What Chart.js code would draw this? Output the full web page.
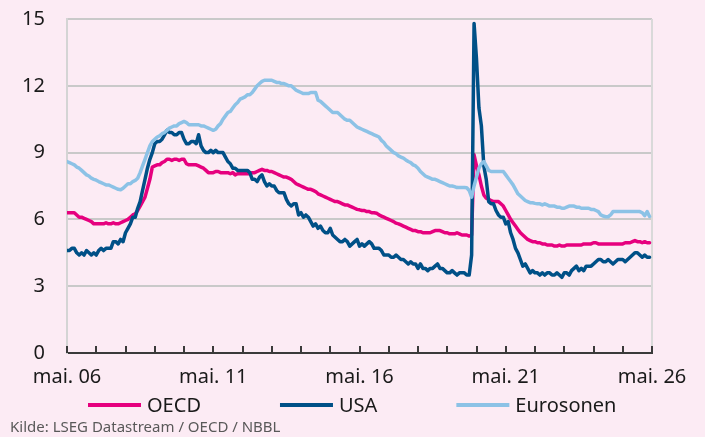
<!DOCTYPE html>
<html>
<head>
<meta charset="utf-8">
<script src="https://cdn.jsdelivr.net/npm/chart.js@4.4.1/dist/chart.umd.min.js"></script>
<style>
  html, body { margin: 0; padding: 0; background: #fcebf4; }
</style>
</head>
<body>
<canvas id="chart" width="705" height="437"></canvas>
<script>
// Monthly unemployment rate (%), first value = May 2006, one row per May..April year
const oecd = [
    6.3, 6.3, 6.3, 6.3, 6.2, 6.1, 6.1, 6.05, 6.0, 5.95, 5.9, 5.8,
    5.8, 5.8, 5.8, 5.8, 5.85, 5.8, 5.8, 5.85, 5.8, 5.8, 5.85, 5.9,
    5.95, 6.0, 6.1, 6.2, 6.25, 6.4, 6.6, 6.8, 7.0, 7.4, 7.8, 8.35,
    8.4, 8.45, 8.45, 8.55, 8.6, 8.7, 8.7, 8.65, 8.7, 8.7, 8.65, 8.7,
    8.7, 8.5, 8.45, 8.45, 8.45, 8.45, 8.4, 8.35, 8.3, 8.2, 8.1, 8.1,
    8.1, 8.15, 8.15, 8.1, 8.1, 8.1, 8.1, 8.05, 8.1, 8.0, 8.05, 8.05,
    8.05, 8.05, 8.05, 8.05, 8.1, 8.1, 8.15, 8.2, 8.25, 8.2, 8.2, 8.15,
    8.15, 8.1, 8.05, 8.0, 7.95, 7.9, 7.9, 7.85, 7.8, 7.7, 7.6, 7.55,
    7.5, 7.45, 7.4, 7.35, 7.35, 7.3, 7.25, 7.15, 7.1, 7.05, 7.0, 6.95,
    6.9, 6.85, 6.8, 6.8, 6.75, 6.7, 6.65, 6.65, 6.6, 6.55, 6.5, 6.45,
    6.43, 6.4, 6.4, 6.35, 6.35, 6.3, 6.3, 6.28, 6.2, 6.15, 6.1, 6.05,
    6.0, 5.95, 5.9, 5.83, 5.8, 5.75, 5.7, 5.65, 5.6, 5.55, 5.5, 5.5,
    5.45, 5.45, 5.4, 5.4, 5.4, 5.4, 5.45, 5.5, 5.5, 5.5, 5.45, 5.4,
    5.4, 5.35, 5.35, 5.35, 5.4, 5.35, 5.3, 5.3, 5.3, 5.25, 5.3, 8.9,
    8.4, 8.0, 7.5, 7.1, 6.95, 6.9, 6.85, 6.8, 6.8, 6.8, 6.7, 6.6,
    6.4, 6.2, 6.0, 5.85, 5.7, 5.55, 5.4, 5.3, 5.2, 5.1, 5.05, 5.0,
    5.0, 4.95, 4.95, 4.9, 4.9, 4.85, 4.85, 4.85, 4.8, 4.8, 4.85, 4.8,
    4.8, 4.85, 4.85, 4.85, 4.85, 4.85, 4.85, 4.85, 4.9, 4.9, 4.9, 4.9,
    4.95, 4.95, 4.9, 4.9, 4.9, 4.9, 4.9, 4.9, 4.9, 4.9, 4.9, 4.9,
    4.9, 4.95, 4.95, 4.95, 5.0, 5.05, 5.0, 5.0, 4.95, 5.0, 4.95, 4.95
];

const usa = [
    4.6, 4.6, 4.7, 4.7, 4.5, 4.4, 4.5, 4.4, 4.6, 4.5, 4.4, 4.5,
    4.4, 4.6, 4.7, 4.6, 4.7, 4.7, 4.7, 5.0, 5.0, 4.9, 5.1, 5.0,
    5.4, 5.6, 5.8, 6.1, 6.1, 6.5, 6.8, 7.3, 7.8, 8.3, 8.7, 9.0,
    9.4, 9.5, 9.5, 9.6, 9.8, 10.0, 9.9, 9.9, 9.8, 9.8, 9.9, 9.9,
    9.6, 9.4, 9.4, 9.5, 9.5, 9.4, 9.8, 9.3, 9.1, 9.0, 9.0, 9.1,
    9.0, 9.1, 9.0, 9.0, 9.0, 8.8, 8.6, 8.5, 8.3, 8.3, 8.2, 8.2,
    8.2, 8.2, 8.2, 8.1, 7.8, 7.8, 7.7, 7.9, 8.0, 7.7, 7.5, 7.6,
    7.5, 7.5, 7.3, 7.2, 7.2, 7.2, 6.9, 6.7, 6.6, 6.7, 6.7, 6.2,
    6.3, 6.1, 6.2, 6.1, 5.9, 5.7, 5.8, 5.6, 5.7, 5.5, 5.4, 5.4,
    5.6, 5.3, 5.2, 5.1, 5.0, 5.0, 5.1, 5.0, 4.8, 4.9, 5.0, 5.1,
    4.8, 4.9, 4.8, 4.9, 5.0, 4.9, 4.7, 4.7, 4.7, 4.6, 4.4, 4.4,
    4.4, 4.3, 4.3, 4.4, 4.3, 4.2, 4.2, 4.1, 4.0, 4.1, 4.0, 4.0,
    3.8, 4.0, 3.8, 3.8, 3.7, 3.8, 3.8, 3.9, 4.0, 3.8, 3.8, 3.7,
    3.6, 3.6, 3.7, 3.6, 3.5, 3.6, 3.6, 3.6, 3.5, 3.5, 4.4, 14.8,
    13.2, 11.0, 10.2, 8.4, 7.8, 6.8, 6.7, 6.7, 6.4, 6.2, 6.1, 6.1,
    5.8, 5.9, 5.4, 5.1, 4.7, 4.5, 4.2, 3.9, 4.0, 3.8, 3.6, 3.7,
    3.6, 3.6, 3.5, 3.6, 3.5, 3.6, 3.6, 3.5, 3.5, 3.6, 3.5, 3.4,
    3.6, 3.6, 3.5, 3.7, 3.8, 3.9, 3.7, 3.8, 3.7, 3.9, 3.9, 3.9,
    4.0, 4.1, 4.2, 4.2, 4.1, 4.1, 4.2, 4.1, 4.0, 4.1, 4.2, 4.2,
    4.2, 4.1, 4.2, 4.3, 4.4, 4.5, 4.5, 4.4, 4.3, 4.4, 4.3, 4.3
];

const eurosonen = [
    8.6, 8.55, 8.5, 8.45, 8.35, 8.3, 8.2, 8.1, 8.0, 7.95, 7.85, 7.8,
    7.76, 7.7, 7.65, 7.6, 7.55, 7.55, 7.5, 7.45, 7.4, 7.35, 7.33, 7.4,
    7.5, 7.6, 7.6, 7.7, 7.75, 7.85, 8.1, 8.4, 8.7, 9.0, 9.3, 9.5,
    9.6, 9.7, 9.75, 9.85, 9.9, 10.0, 10.1, 10.15, 10.2, 10.2, 10.3, 10.35,
    10.4, 10.35, 10.25, 10.25, 10.25, 10.25, 10.25, 10.2, 10.2, 10.15, 10.1, 10.05,
    10.0, 10.05, 10.2, 10.3, 10.5, 10.65, 10.8, 10.85, 11.0, 11.15, 11.25, 11.4,
    11.45, 11.5, 11.6, 11.6, 11.7, 11.85, 12.0, 12.1, 12.2, 12.25, 12.25, 12.25,
    12.25, 12.2, 12.15, 12.15, 12.1, 12.1, 12.05, 12.0, 12.0, 11.9, 11.8, 11.75,
    11.7, 11.65, 11.65, 11.65, 11.7, 11.7, 11.7, 11.35, 11.3, 11.2, 11.1, 11.0,
    10.9, 10.8, 10.8, 10.8, 10.7, 10.6, 10.5, 10.45, 10.45, 10.35, 10.25, 10.15,
    10.1, 10.05, 10.0, 9.95, 9.9, 9.85, 9.8, 9.75, 9.7, 9.55, 9.45, 9.3,
    9.2, 9.1, 9.0, 8.95, 8.85, 8.8, 8.75, 8.67, 8.6, 8.55, 8.45, 8.4,
    8.3, 8.15, 8.05, 7.95, 7.9, 7.85, 7.8, 7.8, 7.75, 7.7, 7.65, 7.6,
    7.55, 7.5, 7.5, 7.47, 7.43, 7.43, 7.43, 7.43, 7.42, 7.3, 7.0, 7.5,
    7.9, 8.3, 8.5, 8.6, 8.4, 8.2, 8.15, 8.15, 8.15, 8.15, 8.15, 8.15,
    8.0, 7.85, 7.7, 7.55, 7.35, 7.15, 7.05, 6.95, 6.85, 6.8, 6.75, 6.75,
    6.72, 6.7, 6.7, 6.65, 6.7, 6.65, 6.6, 6.6, 6.6, 6.55, 6.55, 6.5,
    6.5, 6.55, 6.6, 6.6, 6.6, 6.55, 6.55, 6.5, 6.5, 6.5, 6.5, 6.45,
    6.45, 6.4, 6.35, 6.2, 6.15, 6.12, 6.12, 6.2, 6.35, 6.35, 6.35, 6.35,
    6.35, 6.35, 6.35, 6.35, 6.35, 6.35, 6.35, 6.35, 6.3, 6.17, 6.35, 6.13
];

const tickLabels = ['mai. 06', 'mai. 11', 'mai. 16', 'mai. 21', 'mai. 26'];
const sourceText = 'Kilde: LSEG Datastream / OECD / NBBL';

const textColor = '#1a1a1a';
Chart.defaults.font.family = '"Noto Sans", sans-serif';
Chart.defaults.color = textColor;

function toPoints(values) {
    return values.map((v, i) => ({ x: i, y: v }));
}

const pagePlugin = {
    id: 'page',
    beforeDraw(chart) {
        const ctx = chart.ctx;
        ctx.save();
        ctx.fillStyle = '#fcebf4';
        ctx.fillRect(0, 0, chart.width, chart.height);
        ctx.restore();
    },
    beforeDatasetsDraw(chart) {
        // right frame line
        const { ctx, chartArea } = chart;
        ctx.save();
        ctx.strokeStyle = '#d9d9d9';
        ctx.lineWidth = 2;
        ctx.beginPath();
        ctx.moveTo(chartArea.right, chartArea.top);
        ctx.lineTo(chartArea.right, chartArea.bottom);
        ctx.stroke();
        ctx.restore();
    },
    afterDraw(chart) {
        const { ctx, chartArea } = chart;
        const xScale = chart.scales.x;
        ctx.save();

        // yearly tick marks pointing up into the plot
        ctx.strokeStyle = '#3a3a3a';
        ctx.lineWidth = 2;
        for (let m = 0; m <= 240; m += 12) {
            const x = Math.round(xScale.getPixelForValue(m));
            ctx.beginPath();
            ctx.moveTo(x, chartArea.bottom);
            ctx.lineTo(x, chartArea.bottom - 7);
            ctx.stroke();
        }

        // legend
        const legendY = 405;
        let lx = 88;
        ctx.font = '20px "Noto Sans", sans-serif';
        ctx.textBaseline = 'middle';
        chart.data.datasets.forEach(ds => {
            ctx.strokeStyle = ds.borderColor;
            ctx.lineWidth = 4;
            ctx.beginPath();
            ctx.moveTo(lx, legendY);
            ctx.lineTo(lx + 53, legendY);
            ctx.stroke();
            ctx.fillStyle = textColor;
            ctx.fillText(ds.label, lx + 59, legendY + 1);
            lx += 59 + ctx.measureText(ds.label).width + 79;
        });

        // source
        ctx.font = '15px "Noto Sans", sans-serif';
        ctx.fillStyle = '#595959';
        ctx.fillText(sourceText, 10, 428);
        ctx.restore();
    }
};

const ctx = document.getElementById('chart').getContext('2d');
new Chart(ctx, {
    type: 'line',
    data: {
        datasets: [
            { label: 'OECD', data: toPoints(oecd), borderColor: '#e6007e', order: 3 },
            { label: 'USA', data: toPoints(usa), borderColor: '#005087', order: 2 },
            { label: 'Eurosonen', data: toPoints(eurosonen), borderColor: '#8cc2e6', order: 1 }
        ]
    },
    options: {
        responsive: false,
        animation: false,
        layout: { padding: { top: 19, right: 53, bottom: 44, left: 0 } },
        elements: {
            line: { borderWidth: 3.5, tension: 0, borderJoinStyle: 'round', borderCapStyle: 'round' },
            point: { radius: 0 }
        },
        plugins: {
            legend: { display: false },
            tooltip: { enabled: false }
        },
        scales: {
            x: {
                type: 'linear',
                min: 0,
                max: 240,
                afterFit: s => { s.height = 40; s.paddingLeft = 0; s.paddingRight = 0; },
                ticks: {
                    stepSize: 60,
                    autoSkip: false,
                    maxRotation: 0,
                    padding: 12,
                    font: { size: 20 },
                    color: textColor,
                    callback: (v, i) => tickLabels[i]
                },
                grid: { drawOnChartArea: false, drawTicks: false },
                border: { color: '#3a3a3a', width: 2 }
            },
            y: {
                min: 0,
                max: 15,
                afterFit: s => { s.width = 67; s.paddingTop = 0; s.paddingBottom = 0; },
                ticks: {
                    stepSize: 3,
                    padding: 22,
                    font: { size: 20 },
                    color: textColor
                },
                grid: { color: '#c9c9c9', lineWidth: 2, drawTicks: false },
                border: { color: '#d4d4d4', width: 2 }
            }
        }
    },
    plugins: [pagePlugin]
});
</script>
</body>
</html>
